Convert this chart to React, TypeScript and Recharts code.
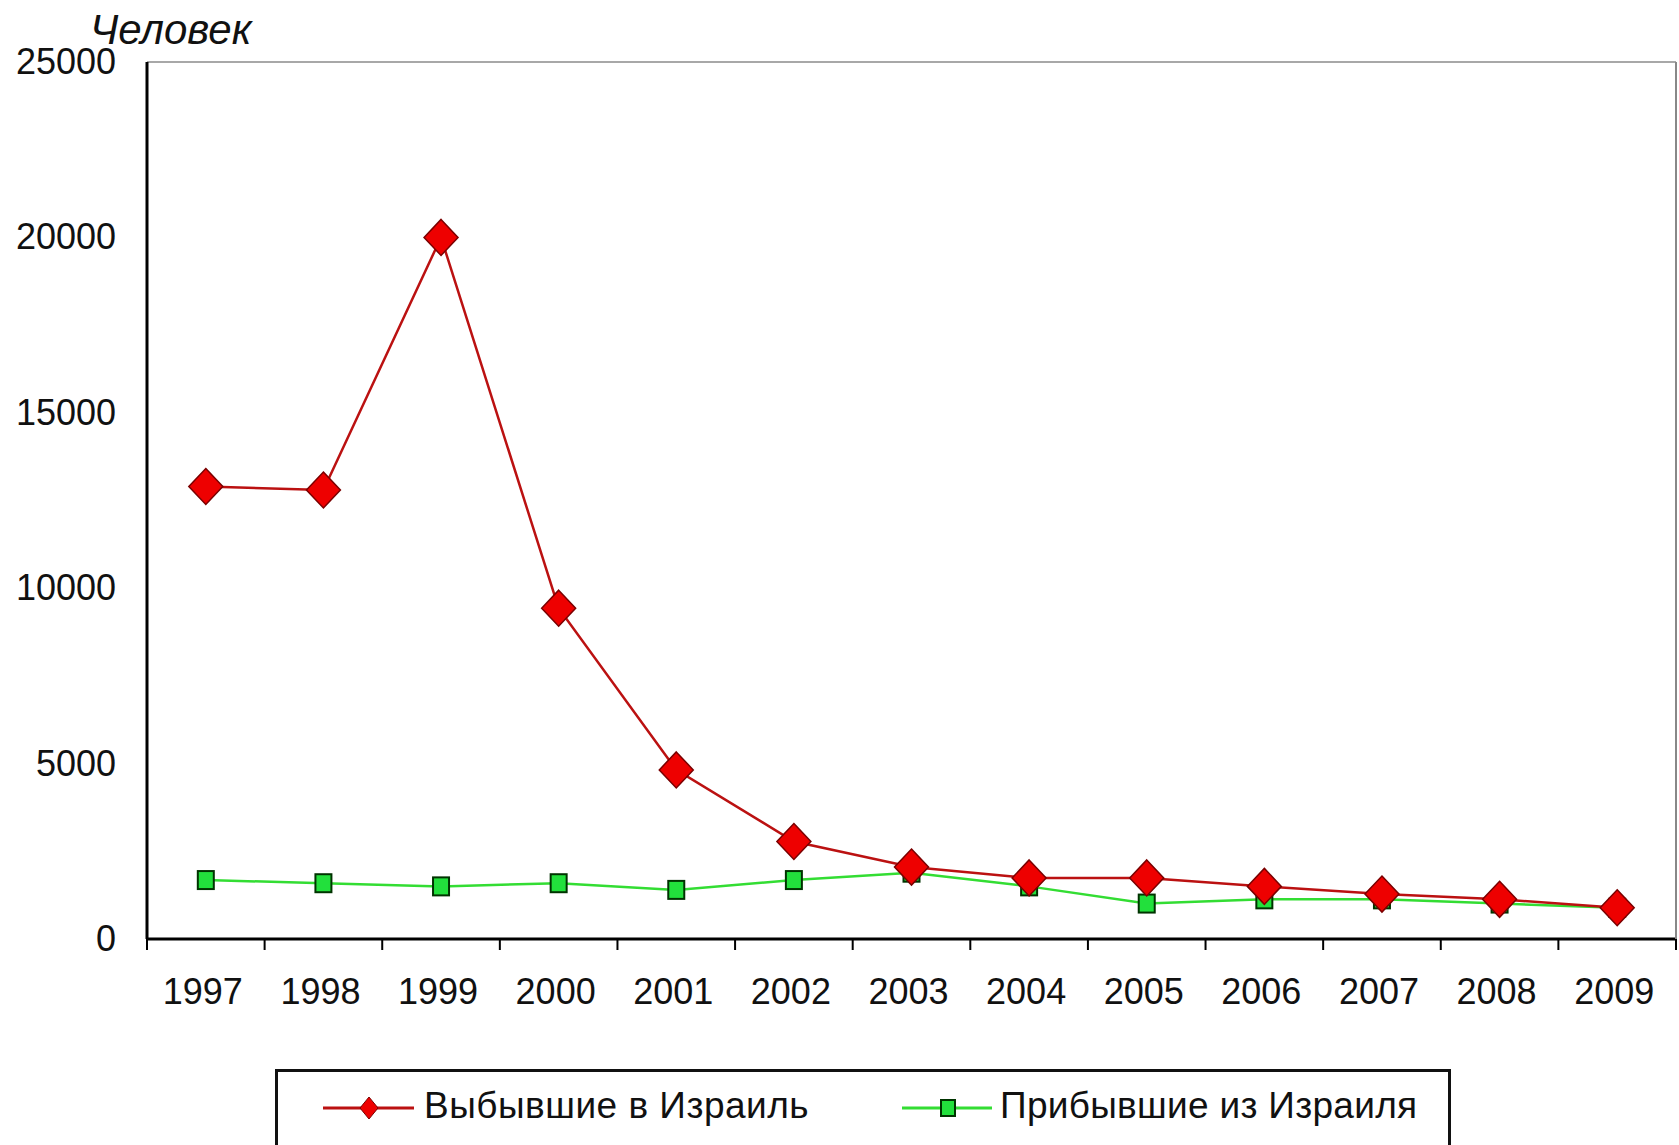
import React from "react";
import { LineChart, Line, XAxis, YAxis, CartesianGrid } from "recharts";

const years = ["1997", "1998", "1999", "2000", "2001", "2002", "2003", "2004", "2005", "2006", "2007", "2008", "2009"];
const departedToIsrael = [12900, 12800, 20000, 9430, 4820, 2780, 2050, 1740, 1740, 1500, 1280, 1130, 890];
const arrivedFromIsrael = [1680, 1590, 1500, 1590, 1400, 1680, 1890, 1500, 1010, 1130, 1130, 1010, 890];
const yTicks = [0, 5000, 10000, 15000, 20000, 25000];
const seriesNames = ["Выбывшие в Израиль", "Прибывшие из Израиля"];
const yUnit = "Человек";

const data = years.map((y, i) => ({ year: y, out: departedToIsrael[i], inn: arrivedFromIsrael[i] }));

const W = 1679;
const H = 1145;
const PLOT_LEFT = 147;
const PLOT_RIGHT = 1676;
const BAND = (PLOT_RIGHT - PLOT_LEFT) / years.length;
const FONT = "'Liberation Sans', Arial, sans-serif";

const Diamond = (props: any) => {
  const { cx, cy, index } = props;
  if (cx == null || cy == null) return <g key={`d${index}`} />;
  const w = 17, h = 18;
  return (
    <path
      key={`d${index}`}
      d={`M${cx},${cy - h} L${cx + w},${cy} L${cx},${cy + h} L${cx - w},${cy} Z`}
      fill="#ee0000"
      stroke="#7a0000"
      strokeWidth={1.5}
    />
  );
};

const Square = (props: any) => {
  const { cx, cy, index } = props;
  if (cx == null || cy == null) return <g key={`s${index}`} />;
  const w = 16, h = 18;
  return (
    <rect
      key={`s${index}`}
      x={cx - w / 2}
      y={cy - h / 2}
      width={w}
      height={h}
      fill="#22e03c"
      stroke="#003300"
      strokeWidth={2}
    />
  );
};

const XTick = (props: any) => {
  const { x, y, payload, index } = props;
  const last = index === years.length - 1;
  return (
    <g>
      <line x1={x - BAND / 2} y1={y} x2={x - BAND / 2} y2={y + 11} stroke="#000" strokeWidth={2} />
      {last && <line x1={x + BAND / 2} y1={y} x2={x + BAND / 2} y2={y + 11} stroke="#000" strokeWidth={2} />}
      <text x={x - 3} y={y + 65} textAnchor="middle" fontSize={36} fontFamily={FONT} fill="#111">
        {payload.value}
      </text>
    </g>
  );
};

const YTick = (props: any) => {
  const { y, payload } = props;
  return (
    <text x={116} y={y + 12} textAnchor="end" fontSize={36} fontFamily={FONT} fill="#111">
      {payload.value}
    </text>
  );
};

export default function App() {
  return (
    <div style={{ position: "absolute", left: 0, top: 0, width: W, height: H, overflow: "hidden", background: "#fff" }}>
      <LineChart width={W} height={H} data={data} margin={{ top: 62, right: 0, bottom: 0, left: 0 }}>
        <CartesianGrid vertical={false} stroke="#a8a8a8" strokeWidth={2} />
        <XAxis
          dataKey="year"
          height={206}
          padding={{ left: BAND / 2, right: BAND / 2 }}
          tickSize={0}
          tickMargin={0}
          tickLine={false}
          axisLine={{ stroke: "#000", strokeWidth: 3 }}
          tick={<XTick />}
          interval={0}
        />
        <YAxis
          yAxisId="left"
          width={147}
          domain={[0, 25000]}
          ticks={yTicks}
          tickSize={0}
          tickLine={false}
          axisLine={{ stroke: "#000", strokeWidth: 3 }}
          tick={<YTick />}
          label={{
            content: () => (
              <text x={90} y={44} fontSize={42} fontStyle="italic" fontFamily={FONT} fill="#111">
                {yUnit}
              </text>
            ),
          }}
        />
        <YAxis
          yAxisId="right"
          orientation="right"
          width={3}
          domain={[0, 25000]}
          tick={false}
          tickLine={false}
          axisLine={{ stroke: "#888", strokeWidth: 2 }}
        />
        <Line
          yAxisId="left"
          type="linear"
          dataKey="inn"
          name={seriesNames[1]}
          stroke="#33dd33"
          strokeWidth={2.5}
          dot={Square}
          isAnimationActive={false}
        />
        <Line
          yAxisId="left"
          type="linear"
          dataKey="out"
          name={seriesNames[0]}
          stroke="#bb1111"
          strokeWidth={2.5}
          dot={Diamond}
          isAnimationActive={false}
        />
      </LineChart>
      <div
        style={{
          position: "absolute",
          left: 275,
          top: 1069,
          width: 1176,
          height: 110,
          border: "3px solid #111",
          boxSizing: "border-box",
          fontFamily: FONT,
          fontSize: 37,
          color: "#111",
        }}
      >
        <svg width={1170} height={80} style={{ position: "absolute", left: 0, top: 0 }}>
          <line x1={45} y1={36} x2={136} y2={36} stroke="#bb1111" strokeWidth={3} />
          <path d="M91,25 L100,36 L91,47 L82,36 Z" fill="#ee0000" stroke="#7a0000" strokeWidth={1} />
          <line x1={624} y1={36} x2={714} y2={36} stroke="#33dd33" strokeWidth={3} />
          <rect x={663} y={28} width={14} height={16} fill="#22e03c" stroke="#003300" strokeWidth={2} />
        </svg>
        <div style={{ position: "absolute", left: 146, top: 13, whiteSpace: "nowrap", letterSpacing: 0.5 }}>{seriesNames[0]}</div>
        <div style={{ position: "absolute", left: 722, top: 13, whiteSpace: "nowrap", letterSpacing: 0.3 }}>{seriesNames[1]}</div>
      </div>
    </div>
  );
}
